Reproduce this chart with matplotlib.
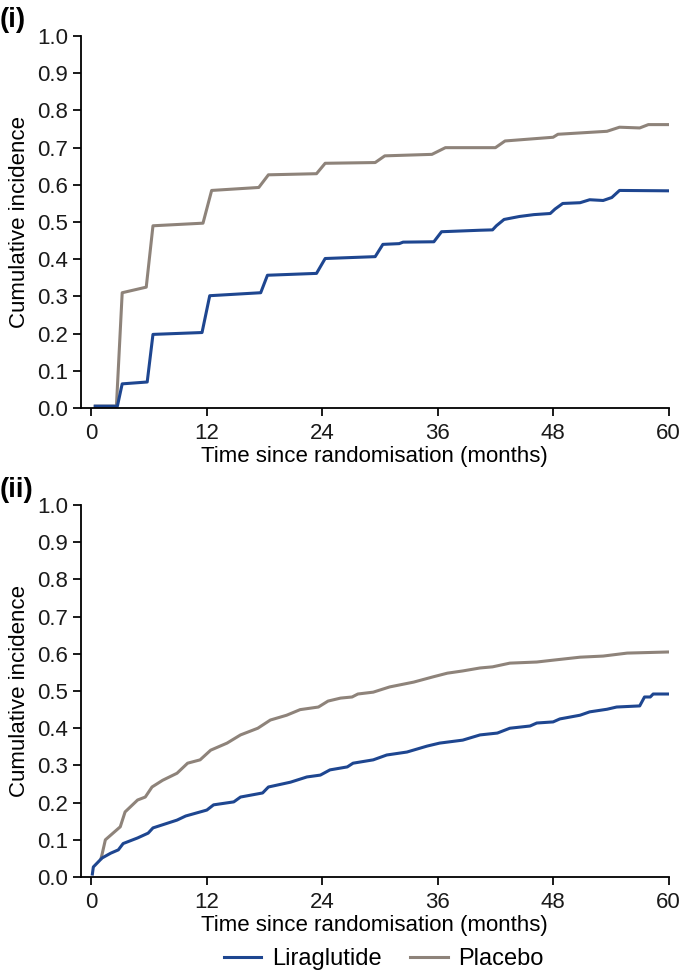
import numpy as np
import matplotlib
matplotlib.use("Agg")
import matplotlib.pyplot as plt

plt.rcParams["font.family"] = ["Liberation Sans", "DejaVu Sans"]

# panel (i) - step-like curves (months, cumulative incidence)
lira_i_t = [0.4, 2.7, 3.2, 5.8, 6.4, 11.5, 12.3, 17.6, 18.3, 23.4, 24.3, 29.5, 30.3,
            32.0, 32.4, 35.6, 36.4, 40.4, 41.7, 42.1, 42.9, 44.5, 46.0, 47.7, 48.2,
            49.0, 50.8, 51.8, 53.2, 54.1, 54.9, 60.0]
lira_i_y = [0.005, 0.005, 0.065, 0.07, 0.198, 0.203, 0.302, 0.31, 0.357, 0.362, 0.402,
            0.407, 0.44, 0.442, 0.446, 0.447, 0.474, 0.478, 0.479, 0.49, 0.507, 0.515,
            0.52, 0.523, 0.535, 0.55, 0.552, 0.56, 0.558, 0.566, 0.585, 0.584]

plac_i_t = [0.4, 2.6, 3.2, 5.7, 6.4, 11.6, 12.5, 17.4, 18.4, 23.4, 24.3, 29.5, 30.5,
            35.4, 36.8, 42.0, 43.0, 45.0, 48.0, 48.5, 53.6, 54.9, 57.0, 57.9, 60.0]
plac_i_y = [0.005, 0.005, 0.31, 0.325, 0.49, 0.497, 0.585, 0.593, 0.627, 0.63, 0.658,
            0.66, 0.678, 0.682, 0.70, 0.70, 0.718, 0.722, 0.728, 0.736, 0.744, 0.755,
            0.753, 0.762, 0.762]

# panel (ii) - smoother curves
lira_ii_t = [0.1, 0.2, 1.1, 2.0, 2.8, 3.3, 4.8, 5.9, 6.4, 8.9, 9.8, 12.0, 12.7, 14.8,
             15.5, 17.8, 18.4, 20.7, 22.4, 23.8, 24.8, 26.6, 27.2, 29.3, 30.7, 32.8,
             34.9, 36.2, 38.6, 40.4, 42.2, 43.5, 45.6, 46.3, 48.0, 48.7, 50.8, 51.8,
             53.6, 54.6, 57.0, 57.5, 58.1, 58.4, 60.0]
lira_ii_y = [0.008, 0.027, 0.051, 0.064, 0.073, 0.09, 0.105, 0.118, 0.132, 0.153, 0.164,
             0.18, 0.194, 0.202, 0.215, 0.226, 0.242, 0.255, 0.269, 0.274, 0.288, 0.296,
             0.306, 0.315, 0.328, 0.336, 0.352, 0.36, 0.368, 0.382, 0.387, 0.40, 0.406,
             0.414, 0.417, 0.425, 0.435, 0.444, 0.451, 0.457, 0.46, 0.484, 0.484, 0.492,
             0.492]

plac_ii_t = [1.0, 1.1, 1.45, 3.0, 3.5, 4.8, 5.6, 6.3, 7.4, 8.9, 10.0, 11.3, 12.4,
             14.1, 15.5, 17.3, 18.6, 20.3, 21.7, 23.6, 24.6, 25.9, 27.1, 27.7, 29.3,
             31.0, 33.5, 35.5, 37.0, 38.6, 40.4, 41.7, 43.5, 46.3, 48.0, 50.8, 53.2,
             55.7, 60.0]
plac_ii_y = [0.05, 0.06, 0.10, 0.135, 0.175, 0.207, 0.215, 0.242, 0.26, 0.279,
             0.306, 0.315, 0.341, 0.36, 0.382, 0.40, 0.422, 0.435, 0.45, 0.457, 0.473,
             0.481, 0.484, 0.492, 0.497, 0.511, 0.524, 0.538, 0.548, 0.554, 0.562,
             0.565, 0.575, 0.578, 0.583, 0.591, 0.594, 0.602, 0.605]

x_ticks = [0, 12, 24, 36, 48, 60]
y_ticks = np.round(np.arange(0, 1.01, 0.1), 1)

blue = "#1e4690"
grey = "#8e837a"


def style_axes(ax):
    ax.set_xlim(-1.1, 60)
    ax.set_ylim(0, 1.0)
    ax.set_xticks(x_ticks)
    ax.set_yticks(y_ticks)
    ax.set_yticklabels([f"{v:.1f}" for v in y_ticks])
    for side in ["top", "right"]:
        ax.spines[side].set_visible(False)
    for side in ["left", "bottom"]:
        ax.spines[side].set_linewidth(1.3)
    ax.tick_params(labelsize=16, length=6, width=1.4, pad=3, colors="#1a1a1a")
    ax.tick_params(axis="x", pad=5)
    ax.set_xlabel("Time since randomisation (months)", fontsize=16, labelpad=1)
    ax.set_ylabel("Cumulative incidence", fontsize=16, labelpad=5)


fig = plt.figure(figsize=(6.85, 9.75), dpi=100)
ax1 = fig.add_axes([0.118, 0.5815, 0.858, 0.3815])
ax2 = fig.add_axes([0.118, 0.1005, 0.858, 0.3815])

ax1.plot(plac_i_t, plac_i_y, color=grey, lw=2.2, solid_joinstyle="round")
ax1.plot(lira_i_t, lira_i_y, color=blue, lw=2.2, solid_joinstyle="round")
style_axes(ax1)

l2, = ax2.plot(plac_ii_t, plac_ii_y, color=grey, lw=2.2, solid_joinstyle="round")
l1, = ax2.plot(lira_ii_t, lira_ii_y, color=blue, lw=2.2, solid_joinstyle="round")
style_axes(ax2)

fig.text(0.0, 0.979, "(i)", fontsize=20, fontweight="bold", va="center")
fig.text(0.0, 0.497, "(ii)", fontsize=20, fontweight="bold", va="center")

fig.legend([l1, l2], ["Liraglutide", "Placebo"], loc="center", ncol=2,
           bbox_to_anchor=(0.56, 0.0165), frameon=False, fontsize=17,
           handlelength=1.6, columnspacing=1.2, handletextpad=0.45)

fig.savefig("out.png", dpi=100)
